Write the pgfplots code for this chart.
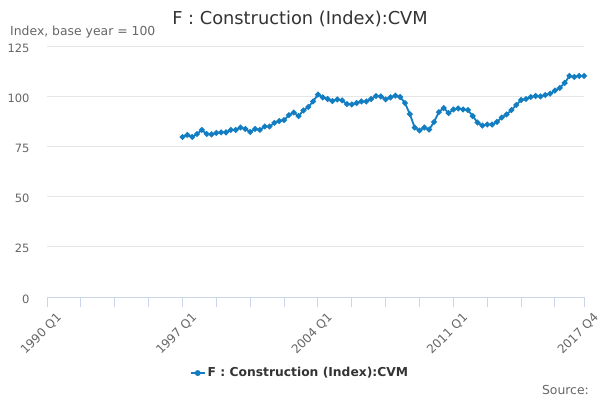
\documentclass[border=0pt]{standalone}
\usepackage{pgfplots}
\pgfplotsset{compat=1.18}
\usepackage{fontspec}
\setmainfont{DejaVu Sans}
\definecolor{linec}{RGB}{18,126,193}
\definecolor{axisc}{RGB}{204,214,235}
\definecolor{gridc}{RGB}{230,230,230}
\definecolor{labc}{RGB}{102,102,102}
\definecolor{titc}{RGB}{51,51,51}
\begin{document}
\begin{tikzpicture}[x=1pt,y=1pt]
\useasboundingbox (0,0) rectangle (600,400);
\begin{axis}[
  at={(47pt,103pt)}, anchor=south west,
  scale only axis, width=537pt, height=251pt,
  xmin=0, xmax=111, ymin=0, ymax=125,
  axis x line*=bottom, axis y line*=left,
  x axis line style={draw=axisc, line width=1pt},
  y axis line style={draw=none},
  ytick={0,25,50,75,100,125},
  ymajorgrids, grid style={draw=gridc, line width=0.8pt},
  ytick style={draw=none},
  xtick={0,28,56,84,111},
  minor xtick={7,14,21,35,42,49,63,70,77,91,98,105},
  xticklabels={1990 Q1,1997 Q1,2004 Q1,2011 Q1,2017 Q4},
  tick align=outside, major tick length=10pt, minor tick length=10pt,
  xtick style={draw=axisc, line width=1pt},
  minor x tick style={draw=axisc, line width=1pt},
  xticklabel style={rotate=45, anchor=east, font=\fontsize{12}{14}\selectfont, text=labc, xshift=6pt, yshift=-15pt},
  yticklabel style={anchor=east, font=\fontsize{11.5}{13}\selectfont, text=labc, xshift=-4pt, yshift=-2pt},
  /pgf/number format/assume math mode=true,
  legend style={at={(0.471,-0.303)}, anchor=center, draw=none, fill=none,
    font=\bfseries\fontsize{12.3}{14}\selectfont, text=titc, legend cell align=left},
  legend image code/.code={\draw[linec, line width=2pt] (0pt,0pt) -- (14pt,0pt);
     \fill[linec] (7pt,0pt) circle (2pt);},
]
\addplot[color=linec, line width=1.8pt, mark=*, mark size=1.9pt, mark options={fill=linec, draw=none}] coordinates {
(28,79.7) (29,80.7) (30,79.7) (31,81.2) (32,83.2) (33,81.2) (34,81.0) (35,81.7)
(36,82.0) (37,82.0) (38,83.2) (39,83.2) (40,84.4) (41,83.7) (42,82.2) (43,83.7)
(44,83.2) (45,84.9) (46,84.9) (47,86.7) (48,87.6) (49,88.1) (50,90.6) (51,91.9)
(52,90.1) (53,92.9) (54,94.6) (55,97.4) (56,100.8) (57,99.4) (58,98.6) (59,97.6)
(60,98.4) (61,97.9) (62,96.1) (63,95.9) (64,96.6) (65,97.4) (66,97.4) (67,98.6)
(68,100.1) (69,99.9) (70,98.4) (71,99.4) (72,100.3) (73,99.6) (74,96.6) (75,91.1)
(76,84.4) (77,82.9) (78,84.4) (79,83.4) (80,87.2) (81,92.1) (82,94.1) (83,91.6)
(84,93.4) (85,93.9) (86,93.4) (87,93.1) (88,90.1) (89,86.9) (90,85.4) (91,85.9)
(92,85.9) (93,87.2) (94,89.4) (95,90.9) (96,93.1) (97,95.6) (98,98.1) (99,98.6)
(100,99.6) (101,100.1) (102,99.9) (103,100.6) (104,101.3) (105,102.8) (106,104.1) (107,106.6)
(108,110.1) (109,109.6) (110,110.1) (111,110.1)
};
\addlegendentry{F : Construction (Index):CVM}
\end{axis}
\node[anchor=center, text=titc, font=\fontsize{17.8}{21}\selectfont] at (300,381) {F : Construction (Index):CVM};
\node[anchor=west, text=labc, font=\fontsize{12.4}{14}\selectfont, inner sep=0pt] at (10,368) {Index, base year = 100};
\node[anchor=east, text=labc, font=\fontsize{12.4}{14}\selectfont, inner sep=0pt] at (589,10) {Source:};
\end{tikzpicture}
\end{document}
